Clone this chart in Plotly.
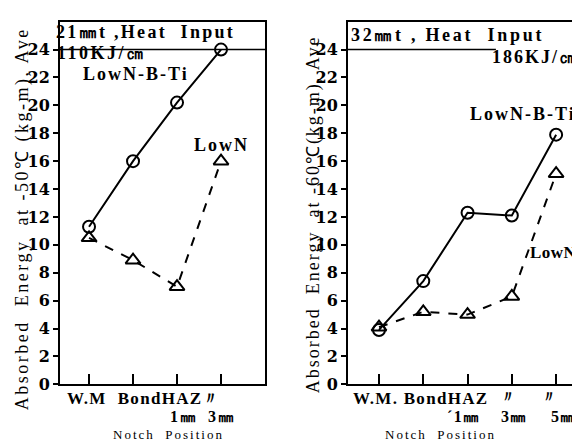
import plotly.graph_objects as go

# ---- data ----
pos_left = [0, 1, 2, 3]              # W.M, Bond, HAZ 1mm, HAZ 3mm
lowN_B_Ti_left = [11.3, 16.0, 20.2, 24.0]
lowN_left = [10.5, 8.9, 7.0, 16.0]

pos_right = [0, 1, 2, 3, 4]          # W.M., Bond, HAZ 1mm, 3mm, 5mm
lowN_B_Ti_right = [3.9, 7.4, 12.3, 12.1, 17.9]
lowN_right = [4.1, 5.2, 5.0, 6.3, 15.1]

y_ticks = [0, 2, 4, 6, 8, 10, 12, 14, 16, 18, 20, 22, 24]

W, H = 580, 444
FONT = "Liberation Serif"

def px(x):
    return x / W

def py(y):
    return 1 - y / H

fig = go.Figure()

circ = dict(symbol="circle-open", size=12, color="black", line=dict(width=2))
tri = dict(symbol="triangle-up-open", size=13, color="black", line=dict(width=2))

fig.add_trace(go.Scatter(x=pos_left, y=lowN_B_Ti_left, mode="lines+markers",
                         line=dict(color="black", width=2), marker=circ,
                         xaxis="x", yaxis="y", showlegend=False))
fig.add_trace(go.Scatter(x=pos_left, y=lowN_left, mode="lines+markers",
                         line=dict(color="black", width=2, dash="dash"), marker=tri,
                         xaxis="x", yaxis="y", showlegend=False))
fig.add_trace(go.Scatter(x=pos_right, y=lowN_B_Ti_right, mode="lines+markers",
                         line=dict(color="black", width=2), marker=circ,
                         xaxis="x2", yaxis="y2", showlegend=False))
fig.add_trace(go.Scatter(x=pos_right, y=lowN_right, mode="lines+markers",
                         line=dict(color="black", width=2, dash="dash"), marker=tri,
                         xaxis="x2", yaxis="y2", showlegend=False))

ydom = [py(385), py(14)]
common_x = dict(showgrid=False, zeroline=False, showline=True, linecolor="black",
                linewidth=2, ticks="inside", ticklen=10, tickwidth=1.5, tickcolor="black",
                showticklabels=False, mirror=True)
common_y = dict(showgrid=False, zeroline=False, showline=True, linecolor="black",
                linewidth=2, ticks="outside", ticklen=5, tickwidth=1.5, tickcolor="black",
                tickvals=y_ticks, range=[0, 26],
                tickfont=dict(family="DejaVu Serif", size=16, color="black", weight="bold"))

fig.update_layout(
    width=W, height=H,
    margin=dict(l=0, r=0, t=0, b=0),
    paper_bgcolor="white", plot_bgcolor="white",
    xaxis=dict(domain=[px(52), px(257)], range=[-0.66, 4.0], tickvals=pos_left, **common_x),
    yaxis=dict(domain=ydom, anchor="x", mirror=True, **common_y),
    xaxis2=dict(domain=[px(340), 1.0], range=[-0.7, 4.72], tickvals=pos_right,
                anchor="y2", **common_x),
    yaxis2=dict(domain=ydom, anchor="x2", mirror=False, **common_y),
)

# title box underline at 24
fig.add_shape(type="line", xref="x", yref="y", x0=-0.66, x1=4.0, y0=24, y1=24,
              line=dict(color="black", width=1.5))
fig.add_shape(type="line", xref="x2", yref="y2", x0=-0.7, x1=2.64, y0=24, y1=24,
              line=dict(color="black", width=1.5))

def txt(x, y, s, size=16, xanchor="left", angle=0, ls=0, bold=True):
    if ls:
        s = f'<span style="letter-spacing:{ls}px">{s}</span>'
    if bold:
        s = f"<b>{s}</b>"
    fig.add_annotation(x=px(x), y=py(y), xref="paper", yref="paper", text=s,
                       showarrow=False, xanchor=xanchor, yanchor="middle",
                       textangle=angle,
                       font=dict(family=FONT, size=size, color="black"))

# left panel texts
txt(46, 25, "21㎜t ,Heat  Input", 18, ls=2.3)
txt(47, 46, "110KJ/㎝", 18, ls=2.5)
txt(73, 68, "LowN-B-Ti", 18, ls=2)
txt(184, 140, "LowN", 18, ls=2)
txt(57, 399, "W.M  BondHAZ〃", 17, ls=1.3)
txt(160, 418, "1㎜  3㎜", 16, ls=1.5)
txt(160, 436, "Notch  Position", 13, xanchor="center", ls=2, bold=False)
txt(14, 216, "Absorbed  Energy  at -50℃ (kg-m), Ave", 18, xanchor="center", angle=-90, ls=2.5, bold=False)

# right panel texts
txt(341, 28, "32㎜t , Heat  Input", 18, ls=2.7)
txt(482, 50, "186KJ/㎝", 18, ls=2)
txt(460, 108, "LowN-B-Ti", 18, ls=2)
txt(520, 250, "LowN", 17, ls=0.5)
txt(343, 399, "W.M. BondHAZ", 17, ls=1.3)
txt(500, 397, "〃", 16, xanchor="center")
txt(541, 397, "〃", 16, xanchor="center")
txt(437, 418, "´1㎜", 16, ls=1.5)
txt(506, 418, "3㎜", 16, xanchor="center", ls=1)
txt(556, 418, "5㎜", 16, xanchor="center", ls=1)
txt(432, 436, "Notch  Position", 13, xanchor="center", ls=2, bold=False)
txt(305, 211, "Absorbed  Energy  at -60℃(kg-m), Ave", 18, xanchor="center", angle=-90, ls=2, bold=False)

fig.write_html("out.html")
